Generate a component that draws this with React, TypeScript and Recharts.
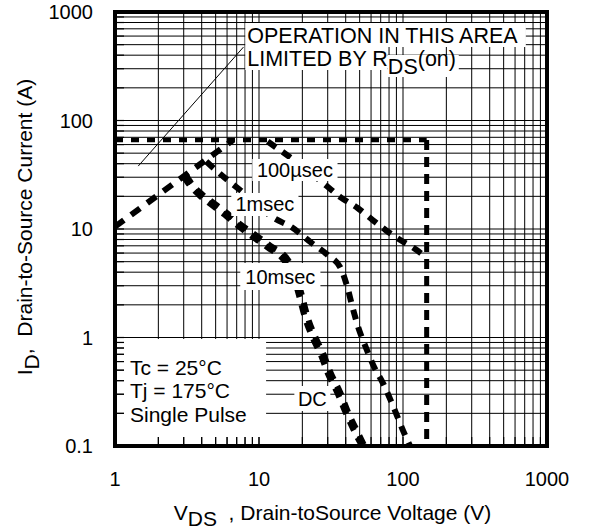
import React from 'react'
import {
  LineChart, Line, XAxis, YAxis, CartesianGrid, ReferenceArea, ReferenceLine,
} from 'recharts'

const FONT = '"Liberation Sans", Arial, Helvetica, sans-serif'

// log grid, 1..9 per decade
const xTicks = [1, 2, 3, 4, 5, 6, 7, 8, 9, 10, 20, 30, 40, 50, 60, 70, 80, 90, 100, 200, 300, 400, 500, 600, 700, 800, 900, 1000]
const yTicks = [0.1, 0.2, 0.3, 0.4, 0.5, 0.6, 0.7, 0.8, 0.9, 1, 2, 3, 4, 5, 6, 7, 8, 9, 10, 20, 30, 40, 50, 60, 70, 80, 90, 100, 200, 300, 400, 500, 600, 700, 800, 900, 1000]
const xLabels = [1, 10, 100, 1000]
const yLabels = [0.1, 1, 10, 100, 1000]

// RDS(on) limit
const rdsV = [1, 6.6]
const rdsI = [10.5, 66]
// current limit
const limV = [1, 146]
const limI = [66, 66]
// voltage limit
const vmaxV = [146, 146]
const vmaxI = [66, 0.1]

const us100V = [11.5, 13, 14.7, 20, 28.9, 36.7, 48.4, 61.6, 75.6, 93.3, 118, 145]
const us100I = [64, 57, 51, 37.5, 25.5, 19.7, 15.6, 12.1, 9.8, 8.1, 6.7, 5.5]

const ms1V = [4.3, 5.0, 6.0, 7.5, 9.5, 12.6, 17, 22.7, 30, 36.8, 41.1, 44.6, 49.1, 55, 62.4, 73.3, 82, 91.7, 101, 112]
const ms1I = [42, 35, 28.5, 22.5, 17, 12.7, 10.3, 7.6, 5.75, 4.4, 2.9, 1.9, 1.22, 0.82, 0.55, 0.37, 0.265, 0.185, 0.135, 0.1]

const ms10V = [3.1, 3.45, 4.0, 4.75, 6.0, 7.2, 9.0, 12.0, 15.7, 18.0, 19.6, 21.9, 24.7, 28.0, 31.3, 36.7, 41.9, 48.3, 54]
const ms10I = [31.5, 25.5, 21, 17.7, 14.0, 11.4, 9.2, 7.0, 5.3, 3.8, 2.6, 1.5, 1.0, 0.7, 0.48, 0.31, 0.2, 0.135, 0.1]

const dcV = [3.0, 3.33, 3.85, 4.55, 5.75, 6.9, 8.6, 11.4, 15.0, 17.3, 18.8, 21.0, 23.7, 26.9, 30.0, 35.2, 40.2, 46.4, 52]
const dcI = [30.5, 25, 20.5, 17.2, 13.6, 11.1, 8.9, 6.8, 5.1, 3.7, 2.55, 1.48, 0.98, 0.69, 0.47, 0.305, 0.2, 0.133, 0.1]

const pts = (v: number[], i: number[]) => v.map((x, k) => ({ v: x, i: i[k] }))

const txt = { fontFamily: FONT, fontSize: 21, fill: '#000' }

// centred label inside a white box
const boxLabel = (s: string) => (p: any) => {
  const vb = p.viewBox
  return (
    <text x={vb.x + vb.width / 2} y={vb.y + vb.height / 2 + 7} textAnchor="middle" style={{ ...txt, fontSize: 20 }}>
      {s}
    </text>
  )
}

const curve = { stroke: '#000', dot: false, isAnimationActive: false, activeDot: false } as const

export default function App() {
  return (
    <div style={{ position: 'absolute', left: 0, top: 0, background: '#fff' }}>
      <LineChart width={589} height={531} margin={{ top: 12, right: 42, bottom: 0, left: 0 }}>
        <CartesianGrid stroke="#000" strokeWidth={1} />

        {/* legend box bottom-left, inset so grid stubs show along the axes */}
        <ReferenceArea x1={1.155} x2={11.2} y1={0.121} y2={0.97} fill="#fff" fillOpacity={1} stroke="none" zIndex={-60}
          label={(p: any) => {
            const vb = p.viewBox
            const x = vb.x + 6
            return (
              <text style={txt}>
                <tspan x={x} y={vb.y + 36}>Tc = 25°C</tspan>
                <tspan x={x} y={vb.y + 59}>Tj = 175°C</tspan>
                <tspan x={x} y={vb.y + 83}>Single Pulse</tspan>
              </text>
            )
          }} />

        {/* RDS(on) note */}
        <ReferenceArea x1={78} x2={244} y1={252} y2={402} fill="#fff" fillOpacity={1} stroke="none" zIndex={-60} />
        <ReferenceArea x1={8.03} x2={713} y1={475} y2={792} fill="#fff" fillOpacity={1} stroke="none" zIndex={-60}
          label={(p: any) => (
            <text x={p.viewBox.x + 2} y={p.viewBox.y + 20} style={{ ...txt, fontSize: 21.5 }}>OPERATION IN THIS AREA</text>
          )} />
        <ReferenceArea x1={8.03} x2={78} y1={292} y2={475} fill="#fff" fillOpacity={1} stroke="none" zIndex={-60}
          label={(p: any) => (
            <text x={p.viewBox.x + 2} y={p.viewBox.y + 19} style={{ ...txt, fontSize: 21.5 }}>
              LIMITED BY R<tspan dy={8}>DS</tspan><tspan dy={-8}>(on)</tspan>
            </text>
          )} />
        <ReferenceLine segment={[{ x: 1.45, y: 38 }, { x: 7.8, y: 475 }]} stroke="#000" strokeWidth={1} zIndex={-50} />

        <Line data={pts(limV, limI)} dataKey="i" type="linear" strokeWidth={4.5} strokeDasharray="8 8" {...curve} />
        <Line data={pts(vmaxV, vmaxI)} dataKey="i" type="linear" strokeWidth={5} strokeDasharray="10 7" {...curve} />
        <Line data={pts(rdsV, rdsI)} dataKey="i" type="linear" strokeWidth={6} strokeDasharray="11 9" {...curve} />
        <Line data={pts(us100V, us100I)} dataKey="i" type="monotone" strokeWidth={6} strokeDasharray="10 8" {...curve} />
        <Line data={pts(ms1V, ms1I)} dataKey="i" type="monotone" strokeWidth={6} strokeDasharray="10 8" {...curve} />
        <Line data={pts(ms10V, ms10I)} dataKey="i" type="monotone" strokeWidth={6} strokeDasharray="10 8" {...curve} />
        <Line data={pts(dcV, dcI)} dataKey="i" type="monotone" strokeWidth={6} strokeDasharray="10 8" {...curve} />

        {/* curve labels */}
        <ReferenceArea x1={8.98} x2={35.1} y1={27.7} y2={44.2} fill="#fff" fillOpacity={1} stroke="none" zIndex={450} label={boxLabel('100µsec')} />
        <ReferenceArea x1={6.42} x2={18.8} y1={13.2} y2={21.5} fill="#fff" fillOpacity={1} stroke="none" zIndex={450} label={boxLabel('1msec')} />
        <ReferenceArea x1={7.41} x2={26.7} y1={2.74} y2={4.86} fill="#fff" fillOpacity={1} stroke="none" zIndex={450} label={boxLabel('10msec')} />
        <ReferenceArea x1={17.6} x2={31.3} y1={0.21} y2={0.357} fill="#fff" fillOpacity={1} stroke="none" zIndex={450} label={boxLabel('DC')} />

        <XAxis dataKey="v" type="number" scale="log" domain={[1, 1000]} allowDataOverflow ticks={xTicks} interval={0}
          height={85} tickSize={-9} tickMargin={35} axisLine={false} tickLine={{ stroke: '#000', strokeWidth: 1.2 }}
          zIndex={600}
          tick={{ fill: '#000', fontSize: 20, fontFamily: FONT }}
          tickFormatter={(v: number) => (xLabels.includes(v) ? String(v) : '')}
          label={(p: any) => {
            const vb = p.viewBox
            return (
              <text x={vb.x + vb.width / 2 + 1.5} y={vb.y + 74} textAnchor="middle" style={{ ...txt, whiteSpace: 'pre' }}>
                V<tspan dy={6}>DS</tspan><tspan dy={-6}>{'  , Drain-toSource Voltage (V)'}</tspan>
              </text>
            )
          }} />
        <YAxis dataKey="i" type="number" scale="log" domain={[0.1, 1000]} allowDataOverflow ticks={yTicks} interval={0}
          width={115} tickSize={-9} tickMargin={31} axisLine={false} tickLine={{ stroke: '#000', strokeWidth: 1.2 }}
          zIndex={600}
          tick={{ fill: '#000', fontSize: 20, fontFamily: FONT }}
          tickFormatter={(v: number) => (yLabels.includes(v) ? String(v) : '')}
          label={(p: any) => {
            const vb = p.viewBox
            const cx = vb.x + 32
            const cy = vb.y + vb.height / 2 - 2
            return (
              <text x={cx} y={cy} textAnchor="middle" transform={`rotate(-90, ${cx}, ${cy})`} style={{ ...txt, whiteSpace: 'pre' }}>
                I<tspan dy={7}>D</tspan><tspan dy={-7}>{',  Drain-to-Source Current (A)'}</tspan>
              </text>
            )
          }} />

        {/* frame */}
        <ReferenceArea x1={1} x2={1000} y1={0.1} y2={1000} fill="none" stroke="#000" strokeWidth={4} ifOverflow="visible" zIndex={700} />
      </LineChart>
    </div>
  )
}
